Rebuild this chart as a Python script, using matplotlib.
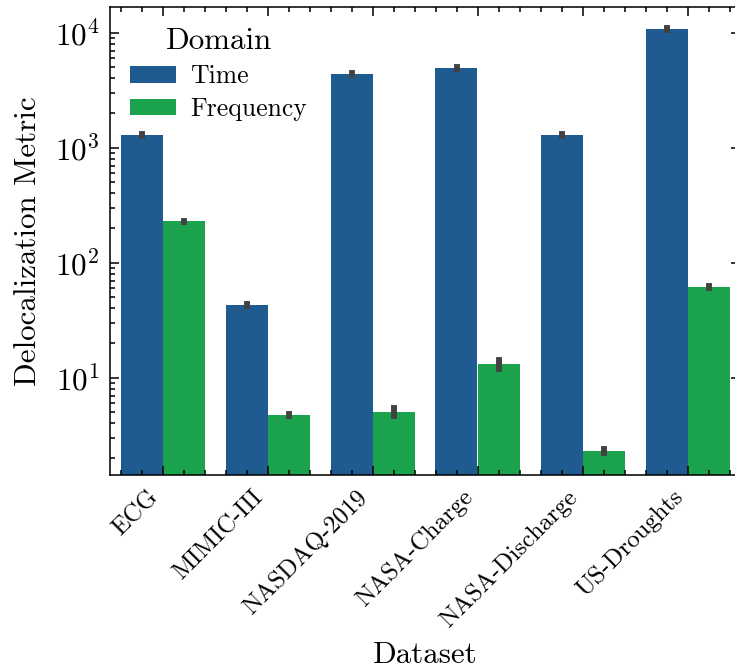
import matplotlib
matplotlib.use('Agg')
import matplotlib.pyplot as plt
from matplotlib.ticker import AutoMinorLocator, LogLocator
import numpy as np

plt.rcParams['font.family'] = 'serif'
plt.rcParams['font.serif'] = ['cmr10']
plt.rcParams['mathtext.fontset'] = 'cm'
plt.rcParams['axes.formatter.use_mathtext'] = True
plt.rcParams['axes.unicode_minus'] = False
plt.rcParams['font.size'] = 10
plt.rcParams['axes.linewidth'] = 0.5
for ax_name in ['xtick', 'ytick']:
    plt.rcParams[ax_name + '.direction'] = 'in'
    plt.rcParams[ax_name + '.major.size'] = 3
    plt.rcParams[ax_name + '.major.width'] = 0.5
    plt.rcParams[ax_name + '.minor.size'] = 1.5
    plt.rcParams[ax_name + '.minor.width'] = 0.5
plt.rcParams['xtick.top'] = True
plt.rcParams['ytick.right'] = True

datasets = ['ECG', 'MIMIC-III', 'NASDAQ-2019', 'NASA-Charge', 'NASA-Discharge', 'US-Droughts']
time_vals = [1290, 42.9, 4370, 4930, 1290, 10770]
time_err = [15, 0.5, 50, 55, 15, 120]
freq_vals = [230, 4.74, 5.03, 13.15, 2.31, 61.5]
freq_err = [2.6, 0.06, 0.38, 1.24, 0.11, 0.8]

domains = ['Time', 'Frequency']
colors = ['#1f5b91', '#1ba24c']

dpi = 223
fig = plt.figure(figsize=(735 / dpi, 670 / dpi), dpi=dpi)
ax = fig.add_axes([110 / 735, 1 - 475 / 670, 630 / 735, 468 / 670])

x = np.arange(len(datasets))
width = 0.4
for i, (vals, errs) in enumerate([(time_vals, time_err), (freq_vals, freq_err)]):
    pos = x + (i - 0.5) * width
    ax.bar(pos, vals, width=width, color=colors[i], label=domains[i], linewidth=0)
    # confidence interval lines on top of each bar
    for p, v, e in zip(pos, vals, errs):
        ax.plot([p, p], [v - e, v + e], color='.26', lw=1.9,
                solid_capstyle='projecting', zorder=3)

ax.set_yscale('log')
ax.set_ylim(1.426, 16730)
ax.set_xlim(-0.5, 5.5)
ax.yaxis.set_minor_locator(LogLocator(base=10, subs=np.arange(2, 10)))
ax.xaxis.set_minor_locator(AutoMinorLocator(5))
ax.set_xticks(x)
ax.set_xticklabels(datasets, rotation=45, ha='right', fontsize=8)

ax.set_xlabel('Dataset', labelpad=3)
ax.set_ylabel('Delocalization Metric')

ax.legend(title='Domain', frameon=False, fontsize=8.3, title_fontsize=10,
          loc='upper left', bbox_to_anchor=(-0.005, 1.006),
          handlelength=1.8, handleheight=0.62, handletextpad=0.55,
          labelspacing=0.36)

fig.savefig('out.png', dpi=dpi)
